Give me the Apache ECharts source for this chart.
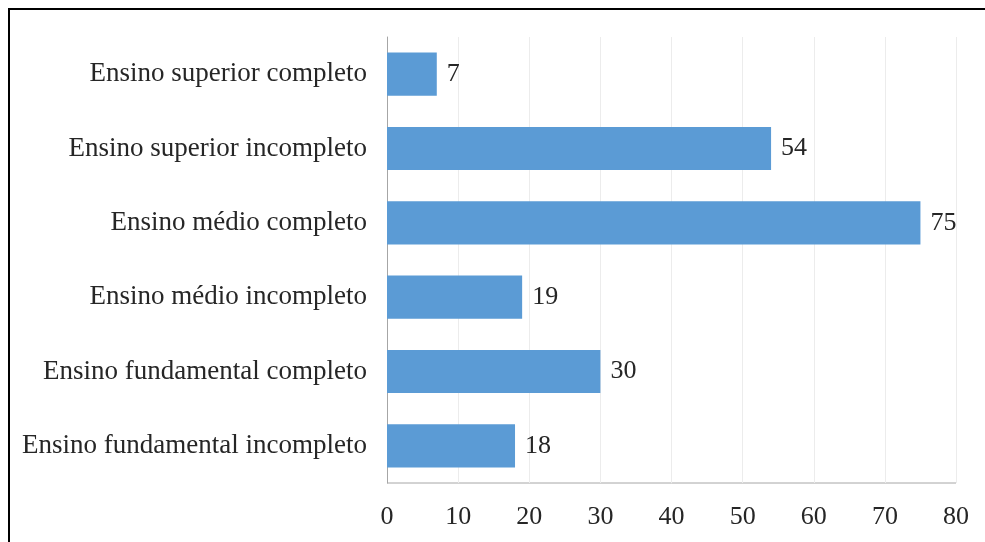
<!DOCTYPE html>
<html>
<head>
<meta charset="utf-8">
<script src="https://cdn.jsdelivr.net/npm/echarts@6/dist/echarts.min.js"></script>
<style>
  html, body { margin: 0; padding: 0; background: #fff; }
  #frame { position: absolute; left: 8px; top: 8px; width: 985px; height: 542px;
           border-top: 2px solid #000; border-left: 2px solid #000; }
  #chart { position: absolute; left: 0; top: 0; width: 985px; height: 542px; }
</style>
</head>
<body>
<div id="frame"></div>
<div id="chart"></div>
<script>
// bottom-to-top order for the category axis
const categories = [
  'Ensino fundamental incompleto',
  'Ensino fundamental completo',
  'Ensino médio incompleto',
  'Ensino médio completo',
  'Ensino superior incompleto',
  'Ensino superior completo'
]
const counts = [18, 30, 19, 75, 54, 7]
const xTicks = [0, 80, 10]   // min, max, interval

const font = 'Liberation Serif'
const chart = echarts.init(document.getElementById('chart'))
chart.setOption({
  animation: false,
  grid: { left: 387, right: 29, top: 37, bottom: 59 },
  xAxis: {
    type: 'value',
    min: xTicks[0],
    max: xTicks[1],
    interval: xTicks[2],
    axisLine: { show: false },
    axisTick: { show: false },
    splitLine: { lineStyle: { color: '#ececec', width: 1 } },
    axisLabel: { color: '#262626', fontFamily: font, fontSize: 26, margin: 21 }
  },
  yAxis: {
    type: 'category',
    data: categories,
    axisLine: { show: true, lineStyle: { color: '#a6a6a6', width: 1 } },
    axisTick: { show: false },
    axisLabel: { color: '#262626', fontFamily: font, fontSize: 27, margin: 20, padding: [4, 0, 0, 0] }
  },
  series: [{
    type: 'bar',
    data: counts,
    barCategoryGap: '42%',
    itemStyle: { color: '#5b9bd5' },
    label: {
      show: true,
      position: 'right',
      distance: 10,
      color: '#262626',
      fontFamily: font,
      fontSize: 26
    }
  }],
  graphic: [{
    type: 'line',
    shape: { x1: 387, y1: 483, x2: 956, y2: 483 },
    style: { stroke: '#a6a6a6', lineWidth: 1 }
  }]
})
</script>
</body>
</html>
